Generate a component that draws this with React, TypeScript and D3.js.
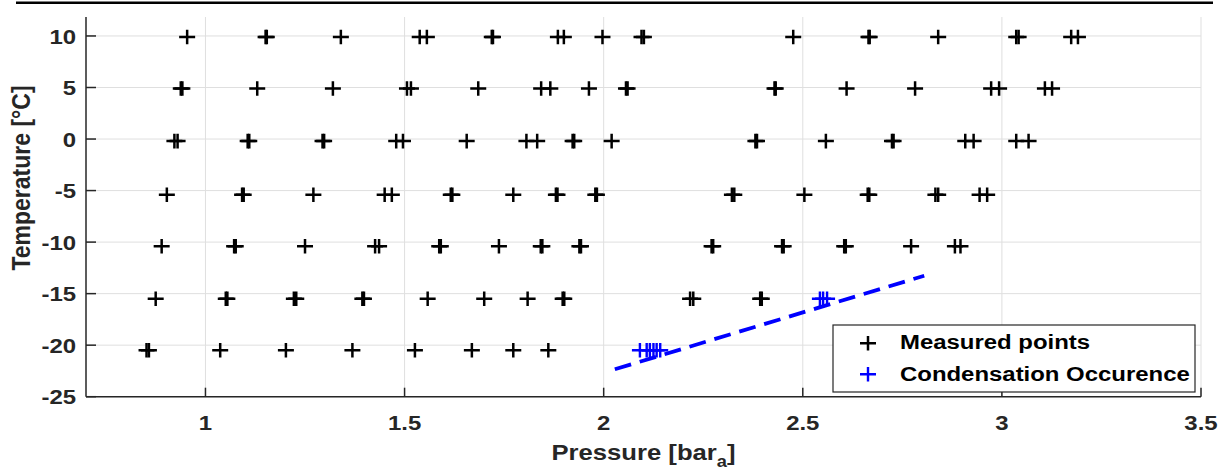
import React from "react";
import * as d3 from "d3";

// ---- data ----
const rowTemps = [9.9, 4.9, -0.2, -5.4, -10.4, -15.5, -20.5];
const pT10 = [0.954, 1.151, 1.154, 1.34, 1.538, 1.556, 1.719, 1.722, 1.885, 1.9, 1.997, 2.095, 2.101, 2.476, 2.665, 2.668, 2.84, 3.036, 3.042, 3.174, 3.191];
const pT5 = [0.938, 0.942, 1.13, 1.32, 1.506, 1.516, 1.685, 1.843, 1.866, 1.963, 2.056, 2.06, 2.429, 2.432, 2.61, 2.782, 2.973, 2.993, 3.108, 3.126];
const pT0 = [0.922, 0.93, 1.106, 1.11, 1.294, 1.298, 1.479, 1.496, 1.656, 1.806, 1.833, 1.922, 1.926, 2.02, 2.381, 2.385, 2.558, 2.724, 2.728, 2.908, 2.929, 3.036, 3.067];
const pTm5 = [0.903, 1.092, 1.096, 1.271, 1.45, 1.468, 1.616, 1.62, 1.773, 1.88, 1.884, 1.979, 1.983, 2.322, 2.328, 2.504, 2.663, 2.667, 2.833, 2.84, 2.944, 2.963];
const pTm10 = [0.89, 1.072, 1.076, 1.25, 1.426, 1.436, 1.587, 1.591, 1.737, 1.842, 1.846, 1.939, 1.943, 2.271, 2.275, 2.448, 2.452, 2.604, 2.608, 2.772, 2.882, 2.896];
const pTm15 = [0.875, 1.051, 1.055, 1.222, 1.228, 1.394, 1.398, 1.558, 1.7, 1.809, 1.897, 1.901, 2.217, 2.225, 2.393, 2.397];
const pTm20 = [0.852, 0.858, 1.037, 1.202, 1.369, 1.526, 1.669, 1.773, 1.861];
const rowPressures = [pT10, pT5, pT0, pTm5, pTm10, pTm15, pTm20];

const condTemps = [-15.5, -20.5];
const condPm15 = [2.543, 2.551, 2.561];
const condPm20 = [2.091, 2.108, 2.116, 2.125, 2.133, 2.142];
const condPressures = [condPm15, condPm20];

const fitP = [2.028, 2.805];
const fitT = [-22.34, -13.26];

const xTicks = [1, 1.5, 2, 2.5, 3, 3.5];
const xTickLabels = ["1", "1.5", "2", "2.5", "3", "3.5"];
const yTicks = [-25, -20, -15, -10, -5, 0, 5, 10];
const yTickLabels = ["-25", "-20", "-15", "-10", "-5", "0", "5", "10"];
const legendLabels = ["Measured points", "Condensation Occurence"];

// ---- layout ----
const W = 1232;
const H = 471;
const L = 86, R = 1201, TOP = 17, BOT = 396.7;
const SX = 1.14;
const FONT = "'Liberation Sans', Arial, Helvetica, sans-serif";
const AX = "#262626";
const GRID = "#dfdfdf";

const x = d3.scaleLinear().domain([0.7, 3.5]).range([L, R]);
const y = d3.scaleLinear().domain([-25, 11.84]).range([BOT, TOP]);

const plusPath = (cx: number, cy: number) => {
  const hw = 8, hh = 7.3;
  return `M${cx - hw},${cy}H${cx + hw}M${cx},${cy - hh}V${cy + hh}`;
};

const Txt = ({ x: tx, y: ty, children, anchor = "start", size = 21, fill = AX, rotate = 0 }: any) => (
  <text
    transform={`translate(${tx},${ty}) scale(${SX},1)${rotate ? ` rotate(${rotate})` : ""}`}
    textAnchor={anchor}
    fontFamily={FONT}
    fontWeight="bold"
    fontSize={size}
    fill={fill}
  >
    {children}
  </text>
);

export default function App() {
  const fitLine = d3
    .line<number>()
    .x((_, i) => x(fitP[i]))
    .y((d) => y(d))(fitT) as string;

  return (
    <svg width={W} height={H} style={{ position: "absolute", left: 0, top: 0, background: "#fff" }}>
      <rect x={0} y={0} width={W} height={H} fill="#fff" />
      {/* top rule */}
      <line x1={16} x2={1213} y1={2.8} y2={2.8} stroke="#000" strokeWidth={2.4} />

      {/* grid */}
      {xTicks.map((t) => (
        <line key={"gx" + t} x1={x(t)} x2={x(t)} y1={TOP} y2={BOT} stroke={GRID} strokeWidth={1} />
      ))}
      {yTicks.map((t) => (
        <line key={"gy" + t} x1={L} x2={R} y1={y(t)} y2={y(t)} stroke={GRID} strokeWidth={1} />
      ))}

      {/* axes */}
      <line x1={L} x2={L} y1={TOP} y2={BOT} stroke={AX} strokeWidth={1.5} />
      <line x1={L} x2={R} y1={BOT} y2={BOT} stroke={AX} strokeWidth={1.5} />
      {xTicks.map((t) => (
        <line key={"tx" + t} x1={x(t)} x2={x(t)} y1={BOT} y2={BOT - 9} stroke={AX} strokeWidth={1.5} />
      ))}
      {yTicks.map((t) => (
        <line key={"ty" + t} x1={L} x2={L + 10} y1={y(t)} y2={y(t)} stroke={AX} strokeWidth={1.5} />
      ))}

      {/* tick labels */}
      {xTicks.map((t, i) => (
        <Txt key={"lx" + t} x={x(t)} y={430} anchor="middle">
          {xTickLabels[i]}
        </Txt>
      ))}
      {yTicks.map((t, i) => (
        <Txt key={"ly" + t} x={76} y={y(t) + 7.6} anchor="end">
          {yTickLabels[i]}
        </Txt>
      ))}

      {/* axis labels */}
      <text
        transform={`translate(${(L + R) / 2},460) scale(${SX},1)`}
        textAnchor="middle"
        fontFamily={FONT}
        fontWeight="bold"
        fontSize={22.5}
        fill={AX}
      >
        Pressure [bar
        <tspan fontSize={16} dy={7}>a</tspan>
        <tspan dy={-7}>]</tspan>
      </text>
      <Txt x={30} y={178} anchor="middle" size={23} rotate={-90}>
        Temperature [°C]
      </Txt>

      {/* measured points */}
      <g stroke="#000" strokeWidth={2.5} fill="none">
        {rowPressures.map((ps, r) =>
          ps.map((p, i) => <path key={`m${r}-${i}`} d={plusPath(x(p), y(rowTemps[r]))} />)
        )}
      </g>

      {/* fit line */}
      <path d={fitLine} stroke="#0000ff" strokeWidth={3.8} strokeDasharray="17,9" fill="none" />

      {/* condensation points */}
      <g stroke="#0000ff" strokeWidth={2.4} fill="none">
        {condPressures.map((ps, r) =>
          ps.map((p, i) => <path key={`c${r}-${i}`} d={plusPath(x(p), y(condTemps[r]))} />)
        )}
      </g>

      {/* legend */}
      <rect x={833} y={325} width={362} height={67} fill="#fff" stroke={AX} strokeWidth={1.2} />
      <path d={plusPath(868, 343.3)} stroke="#000" strokeWidth={2.5} fill="none" />
      <path d={plusPath(868, 374.3)} stroke="#0000ff" strokeWidth={2.4} fill="none" />
      <Txt x={900} y={349} fill="#000">
        {legendLabels[0]}
      </Txt>
      <Txt x={900} y={380.5} fill="#000">
        {legendLabels[1]}
      </Txt>
    </svg>
  );
}
